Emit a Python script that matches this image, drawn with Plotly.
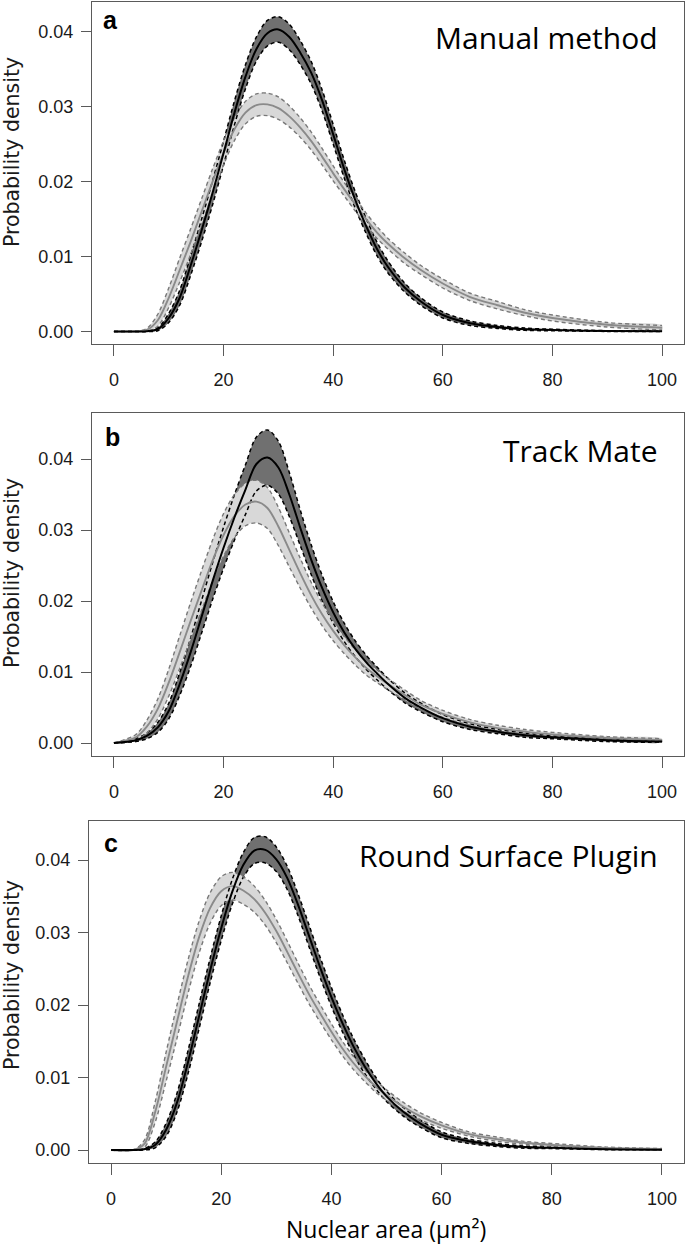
import plotly.graph_objects as go

W, H = 685, 1247

# ---------------- data ----------------
x_area = [0, 4, 6, 8, 10, 12, 14, 16, 18, 20, 22, 24, 26, 28, 30, 32, 34, 36, 38,
          40, 42, 44, 46, 48, 50, 53, 56, 60, 65, 70, 75, 80, 90, 100]

# panel a - Manual method
a_black = [0, 0, 0.00003, 0.0003, 0.0018, 0.0045, 0.0088, 0.0135, 0.0185, 0.0238,
           0.0292, 0.0340, 0.0377, 0.0398, 0.0403, 0.0393, 0.0372, 0.0345, 0.0308,
           0.0263, 0.0217, 0.0176, 0.0141, 0.0110, 0.0086, 0.0059, 0.0040, 0.0022,
           0.0011, 0.0006, 0.0003, 0.0002, 0.00006, 0.00002]
a_black_hw = [0, 0, 0.00002, 0.0002, 0.0006, 0.0010, 0.0013, 0.0015, 0.0016, 0.0016,
              0.0016, 0.0016, 0.0016, 0.0017, 0.0017, 0.0017, 0.0016, 0.0015, 0.0014,
              0.0013, 0.0012, 0.0011, 0.0010, 0.0009, 0.0008, 0.0006, 0.0005, 0.0004,
              0.0003, 0.0002, 0.00015, 0.0001, 0.00005, 0.00002]
a_grey = [0, 0, 0.0002, 0.0015, 0.0045, 0.0082, 0.0120, 0.0160, 0.0200, 0.0238,
          0.0270, 0.0292, 0.0302, 0.0303, 0.0298, 0.0287, 0.0272, 0.0254, 0.0233,
          0.0211, 0.0190, 0.0170, 0.0150, 0.0132, 0.0117, 0.0098, 0.0082, 0.0064,
          0.0046, 0.0035, 0.0025, 0.0018, 0.0009, 0.0005]
a_grey_hw = [0, 0, 0.0002, 0.0008, 0.0013, 0.0016, 0.0017, 0.0017, 0.0017, 0.0016,
             0.0015, 0.0015, 0.0015, 0.0015, 0.0015, 0.0014, 0.0013, 0.0012, 0.0011,
             0.0010, 0.0009, 0.0009, 0.0008, 0.0008, 0.0007, 0.0007, 0.0006, 0.0006,
             0.0005, 0.0005, 0.0004, 0.0004, 0.0003, 0.0003]

# panel b - Track Mate
b_black = [0, 0.0004, 0.0010, 0.0022, 0.0045, 0.0083, 0.0128, 0.0178, 0.0228, 0.0275,
           0.0318, 0.0357, 0.0393, 0.0402, 0.0388, 0.0350, 0.0303, 0.0258, 0.0218,
           0.0184, 0.0156, 0.0133, 0.0114, 0.0098, 0.0083, 0.0064, 0.0050, 0.0035,
           0.0023, 0.0016, 0.0011, 0.0008, 0.0004, 0.0002]
b_black_hw = [0, 0.0002, 0.0004, 0.0007, 0.0011, 0.0016, 0.0020, 0.0023, 0.0026, 0.0029,
              0.0032, 0.0035, 0.0038, 0.0039, 0.0037, 0.0031, 0.0025, 0.0021, 0.0018,
              0.0015, 0.0013, 0.0011, 0.0010, 0.0009, 0.0008, 0.0007, 0.0006, 0.0005,
              0.0004, 0.0003, 0.0003, 0.0002, 0.0002, 0.0001]
b_grey = [0, 0.0008, 0.0023, 0.0048, 0.0085, 0.0128, 0.0172, 0.0215, 0.0257, 0.0293,
          0.0320, 0.0336, 0.0340, 0.0331, 0.0305, 0.0272, 0.0239, 0.0208, 0.0181,
          0.0158, 0.0138, 0.0121, 0.0106, 0.0094, 0.0083, 0.0068, 0.0054, 0.0041,
          0.0029, 0.0021, 0.0016, 0.0012, 0.0007, 0.0004]
b_grey_hw = [0, 0.0004, 0.0009, 0.0014, 0.0019, 0.0023, 0.0026, 0.0028, 0.0029, 0.0030,
             0.0030, 0.0030, 0.0030, 0.0029, 0.0027, 0.0024, 0.0021, 0.0018, 0.0016,
             0.0014, 0.0012, 0.0011, 0.0010, 0.0009, 0.0008, 0.0007, 0.0006, 0.0005,
             0.0004, 0.0004, 0.0003, 0.0003, 0.0002, 0.0002]

# panel c - Round Surface Plugin
c_black = [0, 0, 0.0001, 0.0007, 0.0028, 0.0066, 0.0122, 0.0185, 0.0248, 0.0306,
           0.0356, 0.0393, 0.0413, 0.0414, 0.0401, 0.0375, 0.0337, 0.0294, 0.0251,
           0.0211, 0.0175, 0.0143, 0.0116, 0.0093, 0.0074, 0.0053, 0.0037, 0.0021,
           0.0012, 0.0007, 0.0004, 0.0003, 0.0001, 0.00005]
c_black_hw = [0, 0, 0.0001, 0.0004, 0.0009, 0.0013, 0.0016, 0.0017, 0.0017, 0.0017,
              0.0017, 0.0017, 0.0018, 0.0018, 0.0017, 0.0016, 0.0015, 0.0015, 0.0014,
              0.0013, 0.0012, 0.0011, 0.0010, 0.0008, 0.0007, 0.0006, 0.0005, 0.0004,
              0.0003, 0.0002, 0.00015, 0.0001, 0.00005, 0.00002]
c_grey = [0, 0, 0.0008, 0.0052, 0.0115, 0.0178, 0.0240, 0.0294, 0.0334, 0.0357,
          0.0364, 0.0358, 0.0346, 0.0327, 0.0302, 0.0273, 0.0243, 0.0214, 0.0188,
          0.0163, 0.0140, 0.0120, 0.0103, 0.0088, 0.0076, 0.0060, 0.0047, 0.0034,
          0.0022, 0.0015, 0.0010, 0.0007, 0.0003, 0.0001]
c_grey_hw = [0, 0, 0.0005, 0.0014, 0.0020, 0.0023, 0.0023, 0.0022, 0.0021, 0.0020,
             0.0019, 0.0019, 0.0018, 0.0017, 0.0016, 0.0015, 0.0014, 0.0013, 0.0012,
             0.0011, 0.0010, 0.0009, 0.0008, 0.0008, 0.0007, 0.0006, 0.0005, 0.0004,
             0.0003, 0.0003, 0.0002, 0.0002, 0.0001, 0.0001]

panel_letters = ["a", "b", "c"]
panel_titles = ["Manual method", "Track Mate", "Round Surface Plugin"]
y_label = "Probability density"
x_label = "Nuclear area (μm²)"
x_ticks = [0, 20, 40, 60, 80, 100]
y_ticks = [0.00, 0.01, 0.02, 0.03, 0.04]

panels = [
    dict(black=a_black, black_hw=a_black_hw, grey=a_grey, grey_hw=a_grey_hw),
    dict(black=b_black, black_hw=b_black_hw, grey=b_grey, grey_hw=b_grey_hw),
    dict(black=c_black, black_hw=c_black_hw, grey=c_grey, grey_hw=c_grey_hw),
]

# ---------------- layout geometry (pixels) ----------------
frames = [  # left, right, top, bottom
    (92, 684, 2, 344),
    (92, 684, 413, 756),
    (89, 684, 821, 1163),
]
y_ranges = [[-0.00167, 0.04396], [-0.00183, 0.04648], [-0.00179, 0.04538]]
x_range = [-4, 104]
letter_pos = [(110, 20), (113, 437), (111, 843)]
title_pos = [(660, 37), (660, 451), (660, 855)]
ylab_pos = [(12, 152), (12, 573), (12, 975)]

DARK_FILL = "rgb(112,112,112)"
LIGHT_FILL = "rgb(216,216,216)"
GREY_LINE = "rgb(138,138,138)"
FRAME = "#5a5a5a"
SMOOTH = 0.9

fig = go.Figure()


def lo_hi(c, w):
    lo = [max(0.0, ci - wi) for ci, wi in zip(c, w)]
    hi = [ci + wi for ci, wi in zip(c, w)]
    return lo, hi


for i, p in enumerate(panels):
    xa = "x" if i == 0 else f"x{i+1}"
    ya = "y" if i == 0 else f"y{i+1}"
    blo, bhi = lo_hi(p["black"], p["black_hw"])
    glo, ghi = lo_hi(p["grey"], p["grey_hw"])
    poly_x = x_area + x_area[::-1]
    # dark band
    fig.add_trace(go.Scatter(x=poly_x, y=bhi + blo[::-1], xaxis=xa, yaxis=ya,
                             fill="toself", fillcolor=DARK_FILL, mode="lines",
                             line=dict(width=0, shape="spline", smoothing=SMOOTH),
                             hoverinfo="skip", showlegend=False))
    # light band
    fig.add_trace(go.Scatter(x=poly_x, y=ghi + glo[::-1], xaxis=xa, yaxis=ya,
                             fill="toself", fillcolor=LIGHT_FILL, mode="lines",
                             line=dict(width=0, shape="spline", smoothing=SMOOTH),
                             hoverinfo="skip", showlegend=False))
    # dashed band edges
    for yy in (blo, bhi):
        fig.add_trace(go.Scatter(x=x_area, y=yy, xaxis=xa, yaxis=ya, mode="lines",
                                 line=dict(color="black", width=1.5, dash="4px,3px",
                                           shape="spline", smoothing=SMOOTH),
                                 hoverinfo="skip", showlegend=False))
    for yy in (glo, ghi):
        fig.add_trace(go.Scatter(x=x_area, y=yy, xaxis=xa, yaxis=ya, mode="lines",
                                 line=dict(color="rgb(120,120,120)", width=1.4, dash="4px,3px",
                                           shape="spline", smoothing=SMOOTH),
                                 hoverinfo="skip", showlegend=False))
    # centre lines
    fig.add_trace(go.Scatter(x=x_area, y=p["grey"], xaxis=xa, yaxis=ya, mode="lines",
                             line=dict(color=GREY_LINE, width=1.9, shape="spline", smoothing=SMOOTH),
                             hoverinfo="skip", showlegend=False))
    fig.add_trace(go.Scatter(x=x_area, y=p["black"], xaxis=xa, yaxis=ya, mode="lines",
                             line=dict(color="black", width=2.0, shape="spline", smoothing=SMOOTH),
                             hoverinfo="skip", showlegend=False))

layout = dict(width=W, height=H, margin=dict(l=0, r=0, t=0, b=0, autoexpand=False),
              paper_bgcolor="white", plot_bgcolor="white", showlegend=False,
              font=dict(family="Liberation Sans, Arial, sans-serif", color="#1a1a1a"))

annotations = []
for i, (l, r, t, b) in enumerate(frames):
    sx = "" if i == 0 else str(i + 1)
    layout["xaxis" + sx] = dict(
        domain=[l / W, r / W], range=x_range, anchor="y" + sx, automargin=False,
        tickvals=x_ticks, ticks="outside", ticklen=11, tickwidth=1, tickcolor=FRAME,
        showline=True, linecolor=FRAME, linewidth=1, mirror=True,
        showgrid=False, zeroline=False, ticklabelstandoff=8,
        tickfont=dict(family="Liberation Sans, Arial", size=18, color="#1a1a1a"))
    layout["yaxis" + sx] = dict(
        domain=[1 - b / H, 1 - t / H], range=y_ranges[i], anchor="x" + sx, automargin=False,
        tickvals=y_ticks, tickformat=".2f", ticks="outside", ticklen=10, tickwidth=1,
        tickcolor=FRAME, showline=True, linecolor=FRAME, linewidth=1, mirror=True,
        showgrid=False, zeroline=False, ticklabelstandoff=4,
        tickfont=dict(family="Liberation Sans, Arial", size=18, color="#1a1a1a"))
    lx, ly = letter_pos[i]
    annotations.append(dict(text=f"<b>{panel_letters[i]}</b>", x=lx / W, y=1 - ly / H,
                            xref="paper", yref="paper", xanchor="center", yanchor="middle",
                            showarrow=False,
                            font=dict(family="Liberation Sans, Arial", size=25, color="black")))
    tx, ty = title_pos[i]
    annotations.append(dict(text=panel_titles[i], x=tx / W, y=1 - ty / H,
                            xref="paper", yref="paper", xanchor="right", yanchor="middle",
                            showarrow=False,
                            font=dict(family="Open Sans", size=30, color="black")))
    yx, yy = ylab_pos[i]
    annotations.append(dict(text=y_label, x=yx / W, y=1 - yy / H, textangle=-90,
                            xref="paper", yref="paper", xanchor="center", yanchor="middle",
                            showarrow=False,
                            font=dict(family="DejaVu Sans", size=20.5, color="#1a1a1a")))

annotations.append(dict(text=x_label, x=386 / W, y=1 - 1229 / H, xref="paper", yref="paper",
                        xanchor="center", yanchor="middle", showarrow=False,
                        font=dict(family="Open Sans", size=23, color="black")))
layout["annotations"] = annotations
fig.update_layout(**layout)
fig.write_html("out.html", config={"displayModeBar": False},
               post_script="document.body.style.margin='0';document.body.style.padding='0';")
